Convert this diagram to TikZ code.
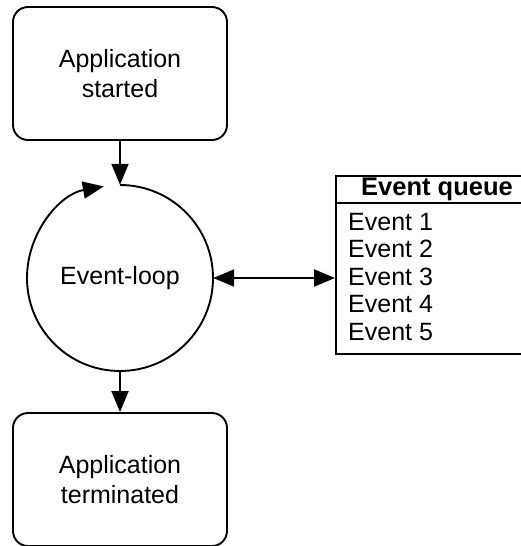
\documentclass[tikz,border=0pt]{standalone}
\usepackage{fontspec}
\setmainfont{Liberation Sans}
\usetikzlibrary{arrows.meta}
\tikzset{
  line/.style={line width=1.9pt},
  tiphead/.tip={Triangle[length=21pt,width=17pt]},
  tip/.style={-tiphead},
  statebox/.style={line, draw, rounded corners=15pt, minimum width=214pt, minimum height=133pt, align=center, font=\fontsize{25}{30}\selectfont, inner sep=0pt},
  qtext/.style={anchor=base west, inner sep=0pt, font=\fontsize{25}{30}\selectfont},
}
\begin{document}
\begin{tikzpicture}[x=1pt,y=1pt]
\useasboundingbox (0,0) rectangle (521,-546);
\clip (0,0) rectangle (521,-546);
\node[statebox] (start) at (120,-73.5) {Application\\started};
\node[statebox] (stop) at (120,-479.5) {Application\\terminated};
\node[circle, minimum size=186pt, inner sep=0pt, font=\fontsize{25}{30}\selectfont] (loop) at (120,-278) {Event-loop};
\draw[line, tip] ([shift={(90:93)}]loop.center) arc[start angle=90, end angle=-260, radius=93];
% queue
\node[line, draw, minimum width=205pt, minimum height=178pt, anchor=north west, inner sep=0pt] (queue) at (335,-175) {};
\coordinate (hl) at (335,-203);
\coordinate (hr) at (540,-203);
\draw[line] (hl) -- (hr);
\node[anchor=base, inner sep=0pt, font=\fontsize{25.5}{30}\selectfont\bfseries] (qh) at (437,-195) {Event queue};
\node[qtext] (e1) at (348,-230) {Event 1};
\node[qtext] (e2) at (348,-257.5) {Event 2};
\node[qtext] (e3) at (348,-285) {Event 3};
\node[qtext] (e4) at (348,-312.5) {Event 4};
\node[qtext] (e5) at (348,-340) {Event 5};
\coordinate (qin) at (queue.west |- loop.east);
\draw[line, tiphead-tiphead] (loop.east) -- (qin);
\draw[line, tip] (start.south) -- (loop.north);
\draw[line, tip] (loop.south) -- (stop.north);
\end{tikzpicture}
\end{document}
